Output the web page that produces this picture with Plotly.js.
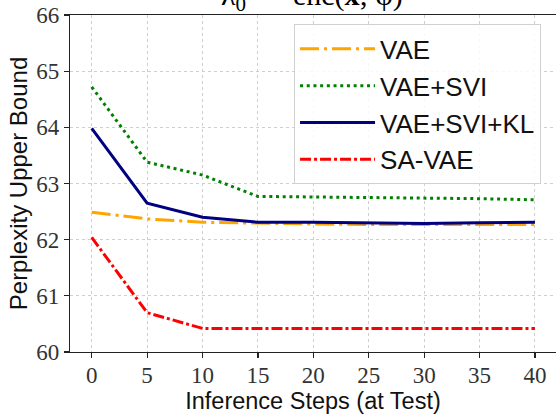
<!DOCTYPE html>
<html>
<head>
<meta charset="utf-8">
<script src="https://cdn.plot.ly/plotly-3.0.1.min.js"></script>
<style>html,body{margin:0;padding:0;background:#fff;}#chart{width:556px;height:417px;}</style>
</head>
<body>
<div id="chart"></div>
<script>
const steps = [0, 5, 10, 15, 20, 25, 30, 35, 40];
const seriesNames = ["VAE", "VAE+SVI", "VAE+SVI+KL", "SA-VAE"];
const vae      = [62.49, 62.37, 62.31, 62.29, 62.28, 62.27, 62.27, 62.27, 62.27];
const vaeSvi   = [64.72, 63.38, 63.15, 62.77, 62.76, 62.75, 62.75, 62.73, 62.71];
const vaeSviKl = [63.98, 62.65, 62.40, 62.31, 62.31, 62.30, 62.29, 62.30, 62.31];
const saVae    = [62.04, 60.70, 60.42, 60.42, 60.42, 60.42, 60.42, 60.42, 60.42];
const yTicks = [60, 61, 62, 63, 64, 65, 66];
const xTicks = [0, 5, 10, 15, 20, 25, 30, 35, 40];
const chartTitle = "λ<sub>0</sub>  =  enc(<b>x</b>; φ)";

const styles = [
  {color: "#FFA500", dash: "19px,5px,3px,5px", width: 3},
  {color: "#008000", dash: "3px,3.7px", width: 3},
  {color: "#000080", dash: "solid", width: 3},
  {color: "#FF0000", dash: "11px,3px,3px,3px", width: 3}
];
const ys = [vae, vaeSvi, vaeSviKl, saVae];
const traces = ys.map((y, i) => ({
  x: steps, y: y, type: "scatter", mode: "lines", name: seriesNames[i],
  legendgroup: "g" + i,
  line: {color: styles[i].color, dash: styles[i].dash, width: styles[i].width}
}));

const serif = "Liberation Serif, Times New Roman, serif";
const sans = "Liberation Sans, Arial, sans-serif";

const layout = {
  width: 556, height: 417,
  margin: {l: 70, r: 0, t: 15, b: 65},
  paper_bgcolor: "#fff", plot_bgcolor: "#fff",
  showlegend: true,
  annotations: [{
    text: chartTitle, showarrow: false,
    font: {family: serif, size: 30, color: "#000"},
    xref: "paper", x: 0.498, xanchor: "center",
    yref: "paper", y: 1, yanchor: "bottom", yshift: -3
  }],
  xaxis: {
    range: [-1.96, 41.9],
    tickvals: xTicks, ticktext: xTicks.map(String),
    ticks: "outside", ticklen: 5, tickwidth: 1.2, tickcolor: "#222",
    ticklabelstandoff: -3,
    showline: true, linecolor: "#222", linewidth: 1.2, mirror: true,
    showgrid: true, gridcolor: "#cfcfcf", gridwidth: 1, griddash: "dot",
    zeroline: false,
    tickfont: {family: serif, size: 23, color: "#333"},
    title: {text: "Inference Steps (at Test)", font: {family: sans, size: 23.5, color: "#111"}, standoff: 4}
  },
  yaxis: {
    range: [60, 66],
    tickvals: yTicks, ticktext: yTicks.map(String),
    ticks: "outside", ticklen: 5, tickwidth: 1.2, tickcolor: "#222",
    showline: true, linecolor: "#222", linewidth: 1.2, mirror: false,
    showgrid: true, gridcolor: "#cfcfcf", gridwidth: 1, griddash: "dot",
    zeroline: false,
    tickfont: {family: serif, size: 23, color: "#333"},
    title: {text: "Perplexity Upper Bound", font: {family: sans, size: 24, color: "#111"}, standoff: 1}
  },
  legend: {
    x: 0.461, y: 0.972, xanchor: "left", yanchor: "top",
    bgcolor: "rgba(255,255,255,0.85)", bordercolor: "#d0d0d0", borderwidth: 1,
    font: {family: sans, size: 26, color: "#111"},
    itemwidth: 75, tracegroupgap: 5, traceorder: "normal"
  }
};

Plotly.newPlot("chart", traces, layout, {staticPlot: true, displayModeBar: false});
</script>
</body>
</html>
